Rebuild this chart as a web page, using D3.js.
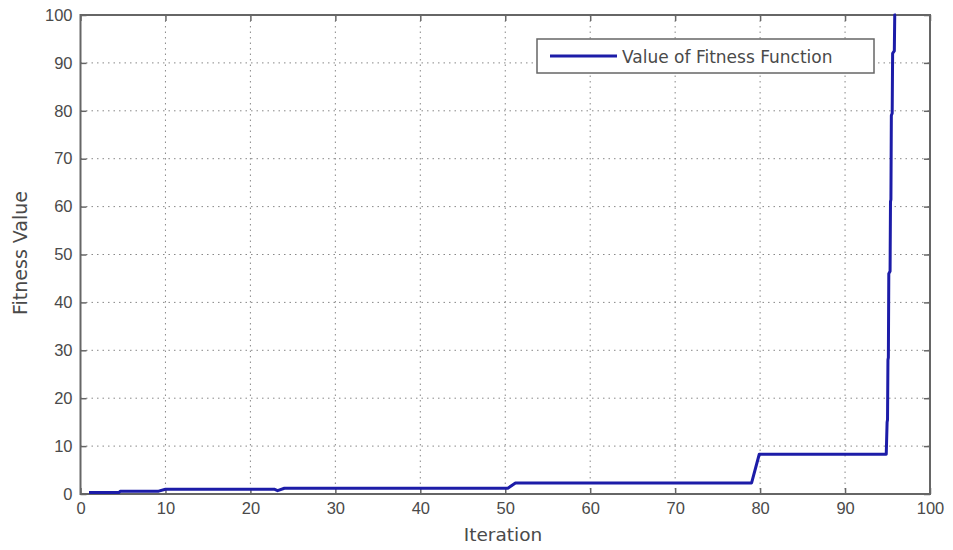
<!DOCTYPE html>
<html><head><meta charset="utf-8">
<script src="https://cdn.jsdelivr.net/npm/d3@7"></script>
<style>body{margin:0;background:#fff;}svg{display:block;font-family:Arial,"Liberation Sans",sans-serif;}</style>
</head><body>
<svg id="c" width="953" height="550"></svg>
<script>
const iteration = [1, 4.5, 4.7, 9.2, 10, 22.8, 23.2, 24, 50.3, 51.2, 79.0, 79.9, 94.85, 94.95, 95.0, 95.05, 95.1, 95.15, 95.3, 95.35, 95.4, 95.45, 95.55, 95.6, 95.8, 95.85, 96.0];
const fitness   = [0.3, 0.3, 0.6, 0.6, 1.0, 1.0, 0.7, 1.2, 1.2, 2.3, 2.3, 8.3, 8.3, 15, 15.5, 28, 28.5, 46, 46.5, 61, 61.5, 79, 79.5, 92, 92.5, 100, 100];
const xTicks = [0, 10, 20, 30, 40, 50, 60, 70, 80, 90, 100];
const yTicks = [0, 10, 20, 30, 40, 50, 60, 70, 80, 90, 100];
const seriesName = "Value of Fitness Function";
const xLabel = "Iteration";
const yLabel = "Fitness Value";

const svg = d3.select("#c");
const L = 80.5, R = 930, T = 15, B = 494;
const x = d3.scaleLinear().domain([0, 100]).range([L, R]);
const y = d3.scaleLinear().domain([0, 100]).range([B, T]);
const axisCol = "#666", textCol = "#4a4a4a";
const wideFont = "'DejaVu Sans', Verdana, sans-serif";

// grid
const g = svg.append("g");
g.selectAll(".vg").data(xTicks.slice(1, -1)).join("line")
  .attr("x1", d => x(d)).attr("x2", d => x(d)).attr("y1", T).attr("y2", B)
  .attr("stroke", "#888").attr("stroke-width", 1).attr("stroke-dasharray", "1.5,4");
g.selectAll(".hg").data(yTicks.slice(1, -1)).join("line")
  .attr("y1", d => y(d)).attr("y2", d => y(d)).attr("x1", L).attr("x2", R)
  .attr("stroke", "#888").attr("stroke-width", 1).attr("stroke-dasharray", "1.5,4");

// axes with inward ticks on all sides
const ax = d3.axisBottom(x).tickValues(xTicks).tickSize(-6).tickPadding(8);
const ay = d3.axisLeft(y).tickValues(yTicks).tickSize(-6).tickPadding(8);
const ax2 = d3.axisTop(x).tickValues(xTicks).tickSize(-6).tickFormat("");
const ay2 = d3.axisRight(y).tickValues(yTicks).tickSize(-6).tickFormat("");
function style(sel){
  sel.selectAll("path").attr("stroke", axisCol).attr("stroke-width", 2);
  sel.selectAll("line").attr("stroke", axisCol).attr("stroke-width", 1.5);
  sel.selectAll("text").attr("fill", textCol).attr("font-size", 16.5).attr("font-family", "Arial, 'Liberation Sans', sans-serif");
}
svg.append("g").attr("transform", `translate(0,${B})`).call(ax).call(style);
svg.append("g").attr("transform", `translate(${L},0)`).call(ay).call(style);
svg.append("g").attr("transform", `translate(0,${T})`).call(ax2).call(style);
svg.append("g").attr("transform", `translate(${R},0)`).call(ay2).call(style);
svg.selectAll(".domain").attr("d", null);
svg.append("rect").attr("x", L).attr("y", T).attr("width", R - L).attr("height", B - T)
  .attr("fill", "none").attr("stroke", axisCol).attr("stroke-width", 2);

// line
const pts = iteration.map((d, i) => [d, fitness[i]]);
svg.append("path").datum(pts)
  .attr("d", d3.line().x(d => x(d[0])).y(d => y(d[1])))
  .attr("fill", "none").attr("stroke", "#1c1ca8").attr("stroke-width", 3).attr("stroke-linejoin", "round");

// legend
const lg = svg.append("g");
lg.append("rect").attr("x", 537).attr("y", 39).attr("width", 337).attr("height", 34)
  .attr("fill", "#fff").attr("stroke", axisCol).attr("stroke-width", 1.5);
lg.append("line").attr("x1", 550).attr("x2", 617).attr("y1", 56).attr("y2", 56)
  .attr("stroke", "#1c1ca8").attr("stroke-width", 3);
lg.append("text").attr("x", 622).attr("y", 63).text(seriesName)
  .attr("fill", textCol).attr("font-size", 17).attr("font-family", wideFont);

// labels
svg.append("text").attr("x", 503).attr("y", 541).attr("text-anchor", "middle")
  .attr("fill", textCol).attr("font-size", 18.5).attr("font-family", wideFont).text(xLabel);
svg.append("text").attr("transform", `translate(27,253) rotate(-90)`).attr("text-anchor", "middle")
  .attr("fill", textCol).attr("font-size", 19).attr("font-family", wideFont).text(yLabel);
</script>
</body></html>
